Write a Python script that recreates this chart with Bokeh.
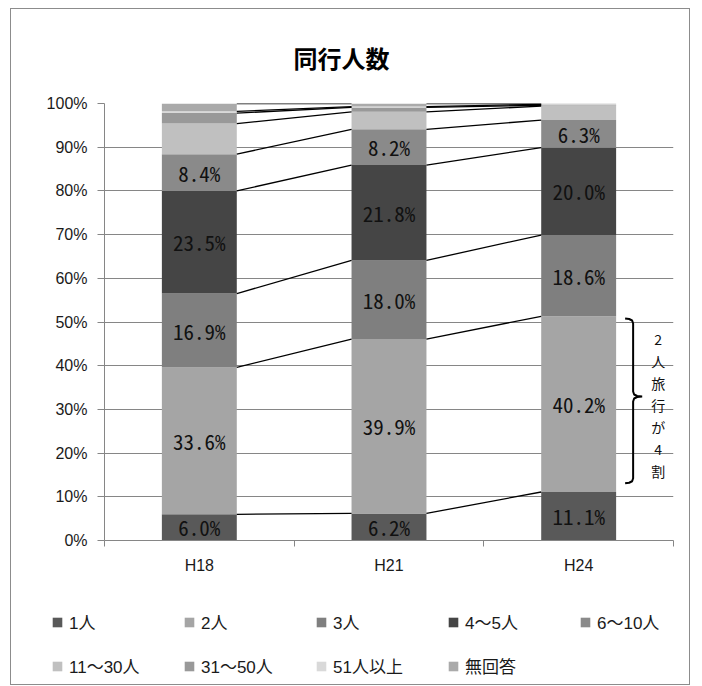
import numpy as np
from bokeh.plotting import figure
from bokeh.layouts import column
from bokeh.models import ColumnDataSource, Range1d, FixedTicker, Legend, LegendItem
from bokeh.core.properties import value
from bokeh.embed import file_html
from bokeh.resources import INLINE

# ---------------- data ----------------
years = ["H18", "H21", "H24"]
series_names = ["1人", "2人", "3人", "4〜5人", "6〜10人",
                "11〜30人", "31〜50人", "51人以上", "無回答"]
s_1 = [6.0, 6.2, 11.1]
s_2 = [33.6, 39.9, 40.2]
s_3 = [16.9, 18.0, 18.6]
s_4_5 = [23.5, 21.8, 20.0]
s_6_10 = [8.4, 8.2, 6.3]
s_11_30 = [7.0, 4.0, 3.2]
s_31_50 = [2.4, 1.0, 0.2]
s_51 = [0.4, 0.2, 0.2]
s_na = [1.8, 0.7, 0.2]
y_ticks = [0, 10, 20, 30, 40, 50, 60, 70, 80, 90, 100]
y_tick_labels = ["0%", "10%", "20%", "30%", "40%", "50%", "60%", "70%", "80%", "90%", "100%"]
title_text = "同行人数"
note_text = "2人旅行が4割"
colors = ["#595959", "#a5a5a5", "#7f7f7f", "#454545", "#8a8a8a",
          "#c0c0c0", "#999999", "#d9d9d9", "#aaaaaa"]

series = [s_1, s_2, s_3, s_4_5, s_6_10, s_11_30, s_31_50, s_51, s_na]
keys = ["s%d" % i for i in range(len(series))]
n_labelled = 5

MONO = "'Noto Sans Mono CJK JP', 'Liberation Mono', monospace"
SANS = "'Liberation Sans', 'Noto Sans CJK JP', sans-serif"
CJK = "'Noto Sans CJK JP', sans-serif"
GRID = "#868686"

xs = [i + 0.5 for i in range(len(years))]
bar_w = 0.395

W = 678
p = figure(width=W, height=585, x_range=Range1d(0, len(years)), y_range=Range1d(0, 100),
           output_backend="svg", toolbar_location=None,
           min_border_left=93, min_border_right=16, min_border_top=94, min_border_bottom=54)
p.frame_align = False
p.outline_line_color = None
p.background_fill_color = "white"

# title
p.title.text = title_text
p.title.text_font = CJK
p.title.text_font_size = "24px"
p.title.text_font_style = "bold"
p.title.text_color = "#000000"
p.title.align = "left"
p.title.offset = 189
p.title.standoff = 57

# axes
p.xgrid.visible = False
p.ygrid.grid_line_color = GRID
p.ygrid.grid_line_width = 1

p.yaxis.ticker = FixedTicker(ticks=y_ticks, minor_ticks=[])
p.yaxis.major_label_overrides = {t: l for t, l in zip(y_ticks, y_tick_labels)}
p.yaxis.axis_line_color = GRID
p.yaxis.major_tick_line_color = GRID
p.yaxis.major_tick_out = 7
p.yaxis.major_tick_in = 0
p.yaxis.minor_tick_line_color = None
p.yaxis.major_label_standoff = 10
p.yaxis.major_label_text_font = SANS
p.yaxis.major_label_text_font_size = "16px"
p.yaxis.major_label_text_color = "#1a1a1a"

p.xaxis.ticker = FixedTicker(ticks=xs, minor_ticks=[i for i in range(len(years) + 1)])
p.xaxis.major_label_overrides = {x: y for x, y in zip(xs, years)}
p.xaxis.axis_line_color = GRID
p.xaxis.major_tick_line_color = None
p.xaxis.major_tick_out = 0
p.xaxis.major_tick_in = 0
p.xaxis.minor_tick_line_color = GRID
p.xaxis.minor_tick_out = 6
p.xaxis.minor_tick_in = 0
p.xaxis.major_label_standoff = 10
p.xaxis.major_label_text_font = SANS
p.xaxis.major_label_text_font_size = "16px"
p.xaxis.major_label_text_color = "#1a1a1a"

# stacked bars
data = dict(x=xs)
for k, s in zip(keys, series):
    data[k] = s
src = ColumnDataSource(data)
p.vbar_stack(keys, x="x", width=bar_w, fill_color=colors, line_color=None, source=src)

arr = np.array(series, dtype=float)
tops = np.cumsum(arr, axis=0)
bottoms = tops - arr

# data labels
for k in range(n_labelled):
    p.text(x=xs, y=list(bottoms[k] + arr[k] / 2),
           text=["%.1f%%" % v for v in arr[k]],
           text_align="center", text_baseline="middle",
           text_font=value(MONO), text_font_size="21px", text_color="#111111")

# series lines
x0s, x1s, y0s, y1s = [], [], [], []
for k in range(len(series)):
    for i in range(len(years) - 1):
        x0s.append(xs[i] + bar_w / 2)
        x1s.append(xs[i + 1] - bar_w / 2)
        y0s.append(tops[k][i])
        y1s.append(tops[k][i + 1])
p.segment(x0=x0s, y0=y0s, x1=x1s, y1=y1s, line_color="black", line_width=1.3)

# brace for 2人 of last year
last = len(years) - 1
pxx = len(years) / 569.0   # data units per pixel (x)
pxy = 100 / 437.0          # data units per pixel (y)
bx = xs[last] + bar_w / 2
yt = tops[1][last] - 0.5
yb = bottoms[1][last] + 2.0
ym = (yt + yb) / 2 + 1.0
pts = [(9, yt, 0), (13, yt, -0.5), (16, yt, -2), (17, yt, -5),
       (17, ym, 5), (18, ym, 2), (21, ym, 0.5), (26, ym, 0),
       (21, ym, -0.5), (18, ym, -2), (17, ym, -5),
       (17, yb, 5), (16, yb, 2), (13, yb, 0.5), (9, yb, 0)]
p.line(x=[bx + dx * pxx for dx, _, _ in pts], y=[y + dy * pxy for _, y, dy in pts],
       line_color="black", line_width=2)
p.text(x=[bx + 42 * pxx], y=[(yt + yb) / 2 - 1.0], text=["\n".join(note_text)],
       text_align="center", text_baseline="middle", text_line_height=1.1,
       text_font=value(CJK), text_font_size="14px", text_color="#111111")

# legend figure (two rows)
LH = 90
lp = figure(width=W, height=LH, x_range=Range1d(0, W), y_range=Range1d(0, LH),
            output_backend="svg", toolbar_location=None,
            x_axis_location=None, y_axis_location=None,
            min_border_left=0, min_border_right=0, min_border_top=0, min_border_bottom=0)
lp.frame_align = False
lp.outline_line_color = None
lp.grid.visible = False
nan = float("nan")
sq = [lp.scatter(x=[nan], y=[nan], marker="square", fill_color=c, line_color=None)
      for c in colors]

def make_legend(idx, loc):
    lg = Legend(items=[LegendItem(label=series_names[i], renderers=[sq[i]]) for i in idx],
                orientation="horizontal", location=loc,
                glyph_width=24, glyph_height=24, label_standoff=0, label_width=96,
                spacing=12, padding=0, margin=0, border_line_color=None,
                background_fill_alpha=0, label_text_font=SANS,
                label_text_font_size="17px", label_text_color="#1a1a1a")
    lp.add_layout(lg)

make_legend(range(0, 5), (34, 50))
make_legend(range(5, 9), (34, 6))

layout = column(p, lp, spacing=0,
                styles={"border": "1px solid #8c8c8c", "margin-left": "10px", "margin-top": "8px"})

open("out.html", "w").write(file_html(layout, INLINE))
